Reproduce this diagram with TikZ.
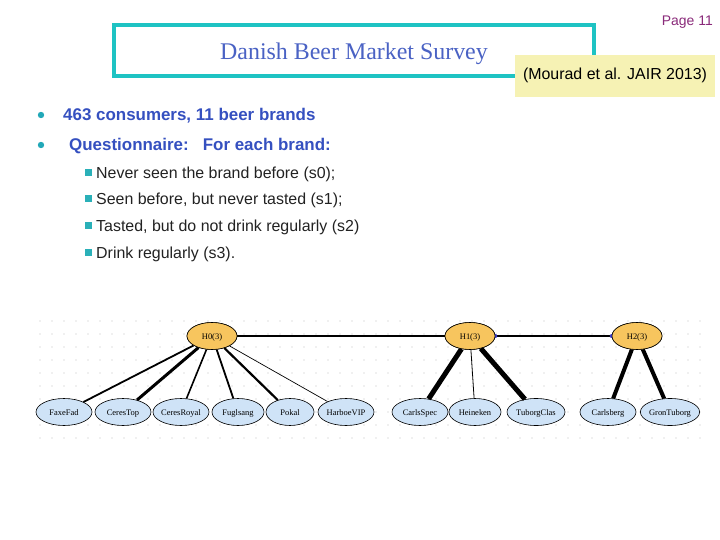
\documentclass[tikz,border=0pt]{standalone}
\usepackage{fontspec}
\setmainfont{Liberation Serif}
\setsansfont{Liberation Sans}
\usetikzlibrary{shapes.geometric}
\definecolor{titlecyan}{HTML}{1EC3C3}
\definecolor{titleblue}{HTML}{4A62C4}
\definecolor{bulletblue}{HTML}{3550C0}
\definecolor{dotcyan}{HTML}{22A8B8}
\definecolor{sqcyan}{HTML}{2AB0B8}
\definecolor{pagepurple}{HTML}{8A2A7A}
\definecolor{noteyellow}{HTML}{F6F2B4}
\definecolor{leafblue}{HTML}{CFE3F7}
\definecolor{latorange}{HTML}{F7C55E}
\definecolor{subgray}{HTML}{222222}
\tikzset{
  x=1bp, y=-1bp,
  leaf/.style={ellipse, draw=black, line width=0.6bp, fill=leafblue, minimum width=56bp, minimum height=27bp, inner sep=0pt, text height=6bp, text depth=0bp, font=\fontsize{8.5}{9}\selectfont},
  latent/.style={ellipse, draw=black, line width=0.6bp, fill=latorange, minimum width=50bp, minimum height=27bp, inner sep=0pt, text height=6bp, text depth=0bp, font=\fontsize{8.5}{9}\selectfont},
  bline/.style={font=\sffamily\bfseries\fontsize{17}{20}\selectfont, text=bulletblue, anchor=base west, inner sep=0pt},
  sline/.style={font=\sffamily\fontsize{16}{19}\selectfont, text=subgray, anchor=base west, inner sep=0pt},
  edge/.style={draw=black}
}
\begin{document}
\begin{tikzpicture}
\useasboundingbox (0,0) rectangle (720,540);
\fill[white] (0,0) rectangle (720,540);
% page number
\node[font=\sffamily\fontsize{14}{16}\selectfont, text=pagepurple, anchor=base east, inner sep=0pt] (page) at (713,26) {Page 11};
% title box
\draw[titlecyan, line width=3.5bp] (114,25) rectangle (594,76);
\node[font=\fontsize{24}{27}\selectfont, text=titleblue, anchor=base, inner sep=0pt] (title) at (354,60) {Danish Beer Market Survey};
% note
\node[fill=noteyellow, minimum width=200bp, minimum height=42bp, inner sep=0pt, text height=11bp, text depth=3bp, font=\sffamily\fontsize{16}{18}\selectfont] (note) at (615,76) {(Mourad et al. JAIR 2013)};
% bullets
\fill[dotcyan] (41,115) circle (3.2bp);
\fill[dotcyan] (41,145) circle (3.2bp);
\node[bline] (b1) at (63,121) {463 consumers, 11 beer brands};
\node[bline] (b2) at (69,151) {Questionnaire:\ \ \ For each brand:};
\foreach \yy in {173,199,226,253} \fill[sqcyan] (84.5,\yy-3.5) rectangle (91.5,\yy+3.5);
\node[sline] (s0) at (96,178.5) {Never seen the brand before (s0);};
\node[sline] (s1) at (96,204.5) {Seen before, but never tasted (s1);};
\node[sline] (s2) at (96,231.5) {Tasted, but do not drink regularly (s2)};
\node[sline] (s3) at (96,258.5) {Drink regularly (s3).};
% grid background
\foreach \gx in {0,...,55} \foreach \gy in {0,...,9}
  \fill[black!25] (40+\gx*12, 321+\gy*13) circle (0.6bp);
% latent nodes
\node[latent] (h0) at (212,336) {H0(3)};
\node[latent] (h1) at (470,336) {H1(3)};
\node[latent] (h2) at (637,336) {H2(3)};
% leaves
\node[leaf] (faxe) at (64,412) {FaxeFad};
\node[leaf] (cerestop) at (123,412) {CeresTop};
\node[leaf] (ceresroyal) at (181,412) {CeresRoyal};
\node[leaf, minimum width=52bp] (fugl) at (238,412) {Fuglsang};
\node[leaf, minimum width=48bp] (pokal) at (290,412) {Pokal};
\node[leaf] (harboe) at (346,412) {HarboeVIP};
\node[leaf] (carlsspec) at (420,412) {CarlsSpec};
\node[leaf, minimum width=52bp] (heineken) at (475,412) {Heineken};
\node[leaf, minimum width=58bp] (tuborg) at (536,412) {TuborgClas};
\node[leaf] (carlsberg) at (608,412) {Carlsberg};
\node[leaf, minimum width=58bp] (gron) at (670,412) {GronTuborg};
% edges
\draw[edge, line width=2bp] (h0) -- (h1);
\draw[edge, line width=1.6bp] (h1) -- (h2);
\fill[blue!55!gray] (h1.east) circle (2bp);
\fill[blue!55!gray] (h2.west) circle (2bp);
\draw[edge, line width=1.8bp] (h0) -- (faxe);
\draw[edge, line width=3bp] (h0) -- (cerestop);
\draw[edge, line width=1.6bp] (h0) -- (ceresroyal);
\draw[edge, line width=1.8bp] (h0) -- (fugl);
\draw[edge, line width=2.2bp] (h0) -- (pokal);
\draw[edge, line width=0.7bp] (h0) -- (harboe);
\draw[edge, line width=5bp] (h1) -- (carlsspec);
\draw[edge, line width=0.8bp] (h1) -- (heineken);
\draw[edge, line width=5bp] (h1) -- (tuborg);
\draw[edge, line width=4bp] (h2) -- (carlsberg);
\draw[edge, line width=4bp] (h2) -- (gron);
% redraw nodes on top
\node[latent] at (h0) {H0(3)};
\node[latent] at (h1) {H1(3)};
\node[latent] at (h2) {H2(3)};
\end{tikzpicture}
\end{document}
